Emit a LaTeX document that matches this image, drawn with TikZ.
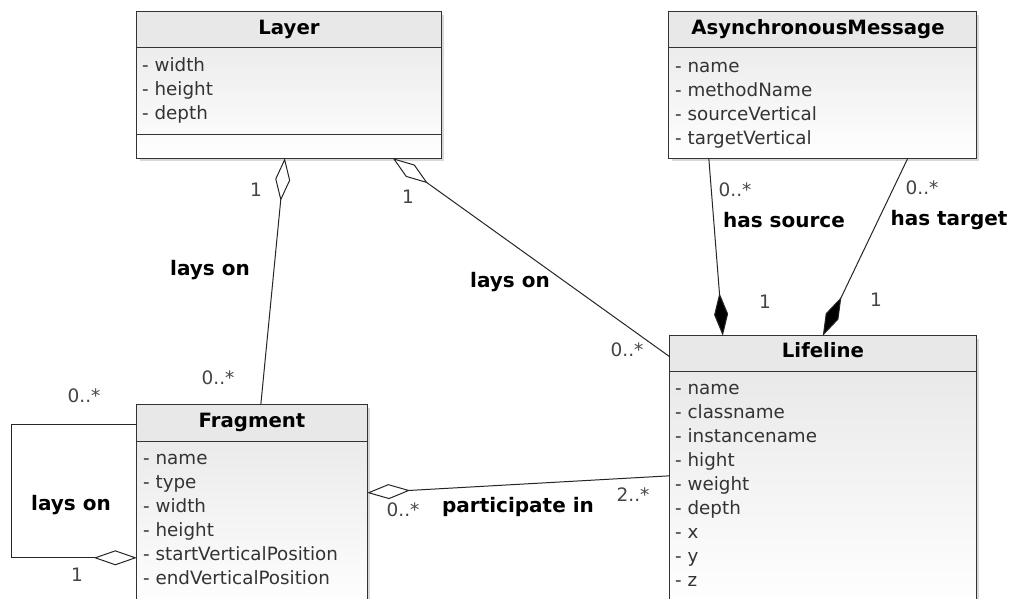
\documentclass[tikz,border=0pt]{standalone}
\usepackage{fontspec}
\setmainfont{DejaVu Sans}
\usetikzlibrary{arrows.meta,shadows}
\definecolor{boxborder}{HTML}{333333}
\definecolor{txt}{HTML}{333333}
\definecolor{multc}{HTML}{444444}
\definecolor{headgray}{HTML}{E8E8E8}
\definecolor{bodytop}{HTML}{E6E6E6}
\tikzset{
  classbox/.style={rectangle, inner sep=0pt, top color=bodytop, bottom color=white,
    drop shadow={shadow xshift=3pt, shadow yshift=-3pt, opacity=0.3}},
  border/.style={draw=boxborder, line width=1.3pt},
  title/.style={font=\fontsize{19.7}{22}\selectfont\bfseries, text=black, inner sep=0pt,
    text height=14pt, text depth=5pt},
  attr/.style={font=\fontsize{18.3}{20}\selectfont, text=txt, anchor=west, inner sep=0pt,
    text height=13pt, text depth=5pt},
  mult/.style={font=\fontsize{18.5}{20}\selectfont, text=multc, inner sep=0pt},
  rel/.style={font=\fontsize{20}{22}\selectfont\bfseries, text=black, inner sep=0pt},
  conn/.style={draw=black!85, line width=1pt},
  opendia/.tip={Diamond[length=43pt,width=15pt,fill=white,line width=1pt]},
  filldia/.tip={Diamond[length=43pt,width=14pt,fill=black,line width=1pt]},
}
\begin{document}
\begin{tikzpicture}[x=1pt,y=-1pt]
\clip (0,0) rectangle (1012,598);
\fill[white] (0,0) rectangle (1012,598);

% ---------- Layer ----------
\node[classbox, minimum width=304pt, minimum height=146pt] (layer) at (289,85) {};
\fill[headgray] (layer.north west) rectangle ([yshift=-36pt]layer.north east);
\draw[border] ([yshift=-36pt]layer.north west) -- ([yshift=-36pt]layer.north east);
\draw[border] ([yshift=-123pt]layer.north west) -- ([yshift=-123pt]layer.north east);
\draw[border] (layer.north west) rectangle (layer.south east);
\node[title] (layerT) at (289,30) {Layer};
\foreach \t [count=\i] in {width,height,depth}
  \node[attr] (layerA\i) at (142,43+24*\i) {- \t};

% ---------- AsynchronousMessage ----------
\node[classbox, minimum width=307pt, minimum height=146pt] (async) at (822.5,85) {};
\fill[headgray] (async.north west) rectangle ([yshift=-36pt]async.north east);
\draw[border] ([yshift=-36pt]async.north west) -- ([yshift=-36pt]async.north east);
\draw[border] (async.north west) rectangle (async.south east);
\node[title] (asyncT) at (818,30) {AsynchronousMessage};
\foreach \t [count=\i] in {name,methodName,sourceVertical,targetVertical}
  \node[attr] (asyncA\i) at (675,44+24*\i) {- \t};

% ---------- Fragment ----------
\node[classbox, minimum width=230pt, minimum height=205pt] (frag) at (252,507.5) {};
\fill[headgray] (frag.north west) rectangle ([yshift=-37pt]frag.north east);
\draw[border] ([yshift=-37pt]frag.north west) -- ([yshift=-37pt]frag.north east);
\draw[border] (frag.north west) rectangle (frag.south east);
\node[title] (fragT) at (252,423) {Fragment};
\foreach \t [count=\i] in {name,type,width,height,startVerticalPosition,endVerticalPosition}
  \node[attr] (fragA\i) at (143,436+24*\i) {- \t};

% ---------- Lifeline ----------
\node[classbox, minimum width=306pt, minimum height=274pt] (life) at (823,473) {};
\fill[headgray] (life.north west) rectangle ([yshift=-36pt]life.north east);
\draw[border] ([yshift=-36pt]life.north west) -- ([yshift=-36pt]life.north east);
\draw[border] (life.north west) rectangle (life.south east);
\node[title] (lifeT) at (823,353) {Lifeline};
\foreach \t [count=\i] in {name,classname,instancename,hight,weight,depth,x,y,z}
  \node[attr] (lifeA\i) at (675,366+24*\i) {- \t};

% ---------- Connectors ----------
\draw[conn, {opendia}-] ([xshift=148pt]layer.south west) -- ([xshift=124pt]frag.north west);
\draw[conn, {opendia}-] ([xshift=256pt]layer.south west) -- ([yshift=-21pt]life.north west);
\draw[conn, -{filldia}] ([xshift=40pt]async.south west) -- ([xshift=53pt]life.north west);
\draw[conn, -{filldia}] ([xshift=239pt]async.south west) -- ([xshift=153pt]life.north west);
\draw[conn, {opendia}-] ([yshift=-88pt]frag.north east) -- ([yshift=-140pt]life.north west);
\draw[conn, -{opendia}] ([yshift=-20pt]frag.north west) -- ++(-125pt,0pt) |- ([yshift=-153pt]frag.north west);

% ---------- Labels ----------
\node[mult] (m1) at (256,190) {1};
\node[rel]  (r1) at (210,270) {lays on};
\node[mult] (m2) at (218,378) {0..*};
\node[mult] (m3) at (408,197) {1};
\node[rel]  (r2) at (510,282) {lays on};
\node[mult] (m4) at (627,350) {0..*};
\node[mult] (m5) at (735,190) {0..*};
\node[rel]  (r3) at (784,220) {has source};
\node[mult] (m6) at (765,302) {1};
\node[mult] (m7) at (922,188) {0..*};
\node[rel]  (r4) at (949,220) {has target};
\node[mult] (m8) at (876,300) {1};
\node[mult] (m9) at (84,396) {0..*};
\node[rel]  (r5) at (71,505) {lays on};
\node[mult] (m10) at (77,575) {1};
\node[mult] (m11) at (403,510) {0..*};
\node[rel]  (r6) at (518,507) {participate in};
\node[mult] (m12) at (633,495) {2..*};
\end{tikzpicture}
\end{document}
